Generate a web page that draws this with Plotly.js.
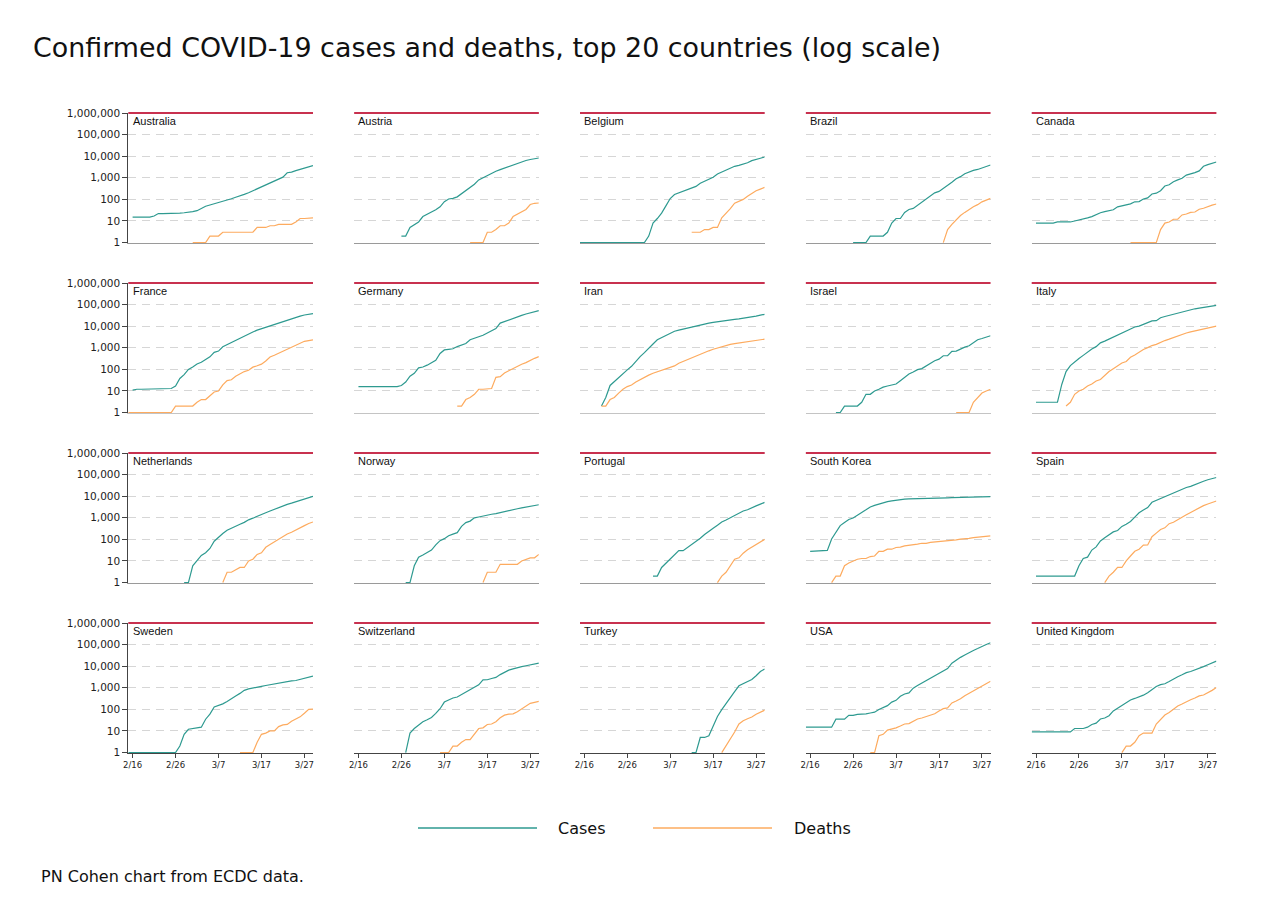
<!DOCTYPE html>
<html>
<head>
<meta charset="utf-8">
<script src="https://cdn.plot.ly/plotly-3.0.1.min.js"></script>
<style>html,body{margin:0;padding:0;background:#fff;}#chart{width:1270px;height:924px;}</style>
</head>
<body>
<div id="chart"></div>
<script>
const _ = null;
const dates = ['2020-02-15','2020-02-16','2020-02-17','2020-02-18','2020-02-19','2020-02-20','2020-02-21','2020-02-22','2020-02-23','2020-02-24','2020-02-25','2020-02-26','2020-02-27','2020-02-28','2020-02-29',
'2020-03-01','2020-03-02','2020-03-03','2020-03-04','2020-03-05','2020-03-06','2020-03-07','2020-03-08','2020-03-09','2020-03-10','2020-03-11','2020-03-12','2020-03-13','2020-03-14','2020-03-15','2020-03-16','2020-03-17','2020-03-18','2020-03-19','2020-03-20','2020-03-21','2020-03-22','2020-03-23','2020-03-24','2020-03-25','2020-03-26','2020-03-27','2020-03-28','2020-03-29'];

const countries = ['Australia','Austria','Belgium','Brazil','Canada','France','Germany','Iran','Israel','Italy','Netherlands','Norway','Portugal','South Korea','Spain','Sweden','Switzerland','Turkey','USA','United Kingdom'];

const casesAustralia = [_,15,15,15,15,15,17,22,22,22,22,22,23,24,25,27,30,39,48,55,62,72,80,93,107,126,142,170,203,250,298,375,454,565,709,876,1072,1709,1823,2136,2423,2799,3166,3635];
const deathsAustralia = [_,_,_,_,_,_,_,_,_,_,_,_,_,_,_,1,1,1,1,2,2,2,3,3,3,3,3,3,3,3,5,5,5,6,6,7,7,7,7,9,13,13,13,14];
const casesAustria = [_,_,_,_,_,_,_,_,_,_,_,2,2,5,7,9,16,20,25,33,45,78,104,112,131,182,270,361,504,800,1016,1200,1646,2013,2388,2814,3244,3800,4876,5282,6300,7029,7697,8271];
const deathsAustria = [_,_,_,_,_,_,_,_,_,_,_,_,_,_,_,_,_,_,_,_,_,_,_,_,_,_,_,1,1,1,1,3,3,4,6,6,8,16,21,28,34,58,66,68];
const casesBelgium = [1,1,1,1,1,1,1,1,1,1,1,1,1,1,1,1,2,8,13,23,50,109,169,200,239,267,314,399,559,689,886,1058,1486,1795,2257,2815,3401,3743,4269,4937,6235,7284,8000,9134];
const deathsBelgium = [_,_,_,_,_,_,_,_,_,_,_,_,_,_,_,_,_,_,_,_,_,_,_,_,_,_,3,3,3,4,4,5,5,14,22,37,67,80,100,140,190,250,300,360];
const casesBrazil = [_,_,_,_,_,_,_,_,_,_,_,1,1,1,1,2,2,2,2,3,8,13,13,25,34,38,52,77,98,133,200,234,323,428,621,904,1128,1546,1891,2201,2433,2915,3417,3904];
const deathsBrazil = [_,_,_,_,_,_,_,_,_,_,_,_,_,_,_,_,_,_,_,_,_,_,_,_,_,_,_,_,_,_,_,_,1,4,7,11,18,25,34,46,57,77,92,111];
const casesCanada = [_,8,8,8,8,8,9,9,9,9,10,11,12,14,16,20,24,27,30,33,45,51,57,62,77,79,103,117,177,193,252,415,478,657,800,943,1331,1465,1739,2091,3409,4042,4682,5386];
const deathsCanada = [_,_,_,_,_,_,_,_,_,_,_,_,_,_,_,_,_,_,_,_,_,_,_,1,1,1,1,1,1,1,4,8,9,12,12,19,21,25,26,35,39,47,54,61];
const casesFrance = [_,11,12,12,12,12,12,12,12,12,13,17,38,57,100,130,178,212,285,380,613,706,1116,1402,1774,2269,2860,3640,4469,5380,6573,7652,9043,10871,12612,14459,16018,19856,22302,25233,29155,32964,35500,38000];
const deathsFrance = [1,1,1,1,1,1,1,1,1,1,1,2,2,2,2,2,3,4,4,6,9,10,19,30,33,48,61,79,91,127,148,175,244,372,450,562,674,860,1100,1331,1696,1995,2150,2314];
const casesGermany = [_,16,16,16,16,16,16,16,16,16,16,18,26,48,66,117,129,157,196,262,545,795,847,902,1139,1296,1567,2369,2745,3275,3795,4838,6012,7800,13957,16662,18610,22672,27436,31554,36508,42288,48582,52547];
const deathsGermany = [_,_,_,_,_,_,_,_,_,_,_,_,_,_,_,_,_,_,_,_,_,_,_,_,2,2,4,5,7,12,12,12,13,43,46,68,86,114,133,174,206,267,325,389];
const casesIran = [_,_,_,_,_,2,5,18,28,43,61,95,139,245,388,593,978,1501,2336,2922,3513,4747,5823,6566,7161,8042,9000,10075,11364,12729,13938,14991,16169,17361,18407,19644,20610,21638,23049,24811,27017,29406,32332,35408];
const deathsIran = [_,_,_,_,_,2,2,4,5,8,12,16,19,26,34,43,54,66,77,92,107,124,145,194,237,291,354,429,514,611,724,853,988,1135,1284,1433,1556,1685,1812,1934,2077,2234,2378,2517];
const casesIsrael = [_,_,_,_,_,_,_,1,1,2,2,2,2,3,7,7,10,12,15,17,19,21,30,42,61,75,97,109,143,193,250,298,427,427,677,705,883,1071,1238,1656,2369,2693,3035,3619];
const deathsIsrael = [_,_,_,_,_,_,_,_,_,_,_,_,_,_,_,_,_,_,_,_,_,_,_,_,_,_,_,_,_,_,_,_,_,_,_,1,1,1,1,3,5,8,10,12];
const casesItaly = [_,3,3,3,3,3,3,20,79,150,227,320,445,650,888,1128,1694,2036,2502,3089,3858,4636,5883,7375,9172,10149,12462,15113,17660,18000,24747,27980,31506,35713,41035,47021,53578,59138,63927,69176,74386,80589,86498,92472];
const deathsItaly = [_,_,_,_,_,_,_,_,2,3,7,10,12,17,21,29,34,52,79,107,148,197,233,366,463,631,827,1016,1266,1441,1809,2158,2503,2978,3405,4032,4825,5476,6077,6820,7503,8215,9134,10023];
const casesNetherlands = [_,_,_,_,_,_,_,_,_,_,_,_,_,1,1,6,10,18,24,38,82,128,188,265,321,382,503,614,804,959,1135,1413,1705,2051,2460,2994,3631,4204,4749,5560,6412,7431,8603,9762];
const deathsNetherlands = [_,_,_,_,_,_,_,_,_,_,_,_,_,_,_,_,_,_,_,_,_,_,1,3,3,4,5,5,10,12,20,24,43,58,76,106,136,179,213,276,356,434,546,639];
const casesNorway = [_,_,_,_,_,_,_,_,_,_,_,_,1,1,6,15,19,25,32,56,87,108,147,176,205,400,598,702,996,1090,1221,1333,1463,1550,1746,1914,2118,2385,2621,2863,3084,3369,3755,4015];
const deathsNorway = [_,_,_,_,_,_,_,_,_,_,_,_,_,_,_,_,_,_,_,_,_,_,_,_,_,_,_,_,_,_,1,3,3,3,7,7,7,7,7,10,12,14,14,20];
const casesPortugal = [_,_,_,_,_,_,_,_,_,_,_,_,_,_,_,_,_,2,2,5,8,13,20,30,30,41,59,78,112,169,245,331,448,642,785,1020,1280,1600,2060,2362,2995,3544,4268,5170];
const deathsPortugal = [_,_,_,_,_,_,_,_,_,_,_,_,_,_,_,_,_,_,_,_,_,_,_,_,_,_,_,_,_,_,_,_,1,2,3,6,12,14,23,33,43,60,76,100];
const casesSouthKorea = [_,28,29,30,31,31,104,204,433,602,833,977,1261,1766,2337,3150,3736,4335,5186,5621,6088,6593,7041,7314,7478,7513,7755,7869,7979,8086,8162,8236,8320,8413,8565,8652,8799,8897,8961,9037,9137,9241,9332,9478];
const deathsSouthKorea = [_,_,_,_,_,_,1,2,2,6,8,10,12,13,13,16,17,28,28,35,35,42,44,50,53,54,60,66,66,72,75,75,81,84,91,94,102,104,111,120,126,131,139,144];
const casesSpain = [_,2,2,2,2,2,2,2,2,2,2,6,13,15,32,45,84,120,165,222,259,400,500,673,1073,1695,2277,2950,5232,6391,7798,9942,11748,13910,17963,20410,25374,28603,35136,39885,49515,57786,65719,73235];
const deathsSpain = [_,_,_,_,_,_,_,_,_,_,_,_,_,_,_,_,_,1,2,3,5,5,10,17,28,35,54,55,133,195,289,342,533,623,830,1043,1375,1772,2311,2808,3647,4365,5138,5982];
const casesSweden = [1,1,1,1,1,1,1,1,1,1,1,1,2,7,12,13,14,15,35,60,130,150,180,230,320,420,550,760,890,1000,1100,1170,1280,1400,1550,1680,1800,1950,2080,2180,2400,2800,3100,3450];
const deathsSweden = [_,_,_,_,_,_,_,_,_,_,_,_,_,_,_,_,_,_,_,_,_,_,_,_,_,_,1,1,1,1,3,7,8,10,10,16,19,20,28,37,45,66,100,102];
const casesSwitzerland = [_,_,_,_,_,_,_,_,_,_,_,_,1,8,13,18,27,33,42,65,107,218,268,337,374,491,652,858,1139,1375,2340,2350,2700,3028,4075,5294,6575,7474,8795,9600,10500,11500,12500,13800];
const deathsSwitzerland = [_,_,_,_,_,_,_,_,_,_,_,_,_,_,_,_,_,_,_,_,1,1,1,2,2,3,4,4,7,13,14,20,21,27,41,54,60,62,78,104,150,190,210,234];
const casesTurkey = [_,_,_,_,_,_,_,_,_,_,_,_,_,_,_,_,_,_,_,_,_,_,_,_,_,_,1,1,5,5,6,18,47,98,192,359,670,1236,1529,1872,2433,3629,5698,7402];
const deathsTurkey = [_,_,_,_,_,_,_,_,_,_,_,_,_,_,_,_,_,_,_,_,_,_,_,_,_,_,_,_,_,_,_,_,_,1,2,4,9,21,30,37,44,59,75,92];
const casesUSA = [15,15,15,15,15,15,15,35,35,35,53,53,59,60,62,68,74,98,118,149,217,262,402,518,583,959,1281,1663,2179,2727,3499,4632,6421,7783,13747,19273,25600,33276,43847,53740,65778,83836,101657,121478];
const deathsUSA = [_,_,_,_,_,_,_,_,_,_,_,_,_,_,_,1,1,6,7,11,12,14,17,21,22,28,36,40,47,54,63,85,108,118,200,244,307,427,552,706,942,1209,1581,2026];
const casesUK = [9,9,9,9,9,9,9,9,9,9,13,13,13,15,20,23,36,40,51,85,115,163,206,273,321,382,456,590,798,1140,1391,1543,1950,2626,3269,3983,5018,5683,6650,8077,9529,11658,14543,17089];
const deathsUK = [_,_,_,_,_,_,_,_,_,_,_,_,_,_,_,_,_,_,_,_,_,1,2,2,3,6,8,8,8,21,35,55,71,104,144,177,233,281,335,422,465,578,759,1019];

const casesSeries = [casesAustralia,casesAustria,casesBelgium,casesBrazil,casesCanada,casesFrance,casesGermany,casesIran,casesIsrael,casesItaly,casesNetherlands,casesNorway,casesPortugal,casesSouthKorea,casesSpain,casesSweden,casesSwitzerland,casesTurkey,casesUSA,casesUK];
const deathsSeries = [deathsAustralia,deathsAustria,deathsBelgium,deathsBrazil,deathsCanada,deathsFrance,deathsGermany,deathsIran,deathsIsrael,deathsItaly,deathsNetherlands,deathsNorway,deathsPortugal,deathsSouthKorea,deathsSpain,deathsSweden,deathsSwitzerland,deathsTurkey,deathsUSA,deathsUK];

const yTickVals = [1,10,100,1000,10000,100000,1000000];
const yTickText = ['1','10','100','1,000','10,000','100,000','1,000,000'];
const xTickVals = ['2020-02-16','2020-02-26','2020-03-07','2020-03-17','2020-03-27'];
const xTickText = ['2/16','2/26','3/7','3/17','3/27'];
const legendLabels = ['Cases','Deaths'];
const titleText = 'Confirmed COVID-19 cases and deaths, top 20 countries (log scale)';
const captionText = 'PN Cohen chart from ECDC data.';

const W = 1270, H = 924;
const TEAL = '#2e9a90', ORANGE = '#fdab5f';
const FONT = 'DejaVu Sans';
const traces = [];
const layout = {
  width: W, height: H,
  margin: {l:0, r:0, t:0, b:0},
  paper_bgcolor: '#fff', plot_bgcolor: '#fff',
  showlegend: false, hovermode: false,
  title: {text: titleText, x: 33/W, xanchor: 'left', y: 1 - 48/H, yanchor: 'middle',
          xref: 'container', yref: 'container',
          font: {family: FONT, size: 26.9, color: '#111'}},
  shapes: [], annotations: []
};

countries.forEach((name, i) => {
  const r = Math.floor(i / 5), c = i % 5;
  const n = i + 1;
  const xa = n === 1 ? 'x' : 'x' + n;
  const ya = n === 1 ? 'y' : 'y' + n;
  const left = 128.3 + c * 225.85, w = 184.7;
  const top = 113 + r * 170, h = 130;
  const bottomRow = r === 3, firstCol = c === 0;
  layout[n === 1 ? 'xaxis' : 'xaxis' + n] = {
    domain: [left / W, (left + w) / W], anchor: ya, type: 'date',
    range: ['2020-02-15', '2020-03-29'],
    showgrid: false, zeroline: false,
    showline: true, linewidth: 1,
    linecolor: bottomRow ? '#444' : (r === 1 ? '#c4c4c4' : '#9a9a9a'),
    ticks: bottomRow ? 'outside' : '', ticklen: 4, tickwidth: 1, tickcolor: '#444',
    tickmode: 'array', tickvals: xTickVals, ticktext: xTickText,
    showticklabels: bottomRow,
    tickfont: {family: FONT, size: 8.5, color: '#222'},
    fixedrange: true
  };
  layout[n === 1 ? 'yaxis' : 'yaxis' + n] = {
    domain: [1 - (top + h) / H, 1 - top / H], anchor: xa, type: 'log',
    range: [-0.02, 6],
    tickmode: 'array', tickvals: yTickVals, ticktext: yTickText,
    showticklabels: firstCol,
    ticks: firstCol ? 'outside' : '', ticklen: 5, tickwidth: 1, tickcolor: '#444',
    tickfont: {family: FONT, size: 10.5, color: '#222'},
    showline: firstCol, linecolor: '#444', linewidth: 1,
    showgrid: true, gridcolor: '#d6d6d6', gridwidth: 1, griddash: '8px,6px',
    zeroline: false, fixedrange: true
  };
  traces.push({x: dates, y: casesSeries[i], xaxis: xa, yaxis: ya, type: 'scatter', mode: 'lines',
               line: {color: TEAL, width: 1.2}, connectgaps: false, name: legendLabels[0]});
  traces.push({x: dates, y: deathsSeries[i], xaxis: xa, yaxis: ya, type: 'scatter', mode: 'lines',
               line: {color: ORANGE, width: 1.2}, connectgaps: false, name: legendLabels[1]});
  layout.shapes.push({type: 'line', xref: xa + ' domain', yref: ya + ' domain',
                      x0: 0, x1: 1, y0: 1, y1: 1, line: {color: '#c8314f', width: 2}, layer: 'above'});
  layout.annotations.push({text: name, xref: xa + ' domain', yref: ya + ' domain',
                           x: 0.012, y: 1 - 8/h, xanchor: 'left', yanchor: 'middle', showarrow: false,
                           font: {family: 'Liberation Sans', size: 11, color: '#111'}});
});

// legend drawn manually
const legY = 1 - 828/H;
layout.shapes.push({type: 'line', xref: 'paper', yref: 'paper', x0: 418/W, x1: 537/W, y0: legY, y1: legY, line: {color: TEAL, width: 1.5}});
layout.shapes.push({type: 'line', xref: 'paper', yref: 'paper', x0: 653/W, x1: 772/W, y0: legY, y1: legY, line: {color: ORANGE, width: 1.5}});
layout.annotations.push({text: legendLabels[0], xref: 'paper', yref: 'paper', x: 556/W, y: legY, xanchor: 'left', yanchor: 'middle', showarrow: false, font: {family: FONT, size: 16, color: '#111'}});
layout.annotations.push({text: legendLabels[1], xref: 'paper', yref: 'paper', x: 792/W, y: legY, xanchor: 'left', yanchor: 'middle', showarrow: false, font: {family: FONT, size: 16, color: '#111'}});
layout.annotations.push({text: captionText, xref: 'paper', yref: 'paper', x: 39/W, y: 1 - 876/H, xanchor: 'left', yanchor: 'middle', showarrow: false, font: {family: FONT, size: 16, color: '#111'}});

Plotly.newPlot('chart', traces, layout, {staticPlot: true, displayModeBar: false});
</script>
</body>
</html>
